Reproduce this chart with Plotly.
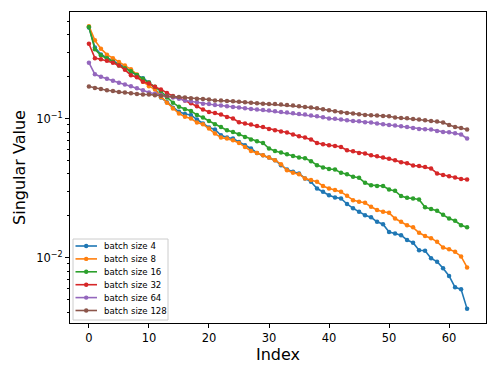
"""Singular value spectrum per batch size, log-scaled, matplotlib look-alike."""
import math

import plotly.graph_objects as go

# index of the singular value (0..63)
index = list(range(64))

bs4 = [
    0.452, 0.325, 0.289, 0.273, 0.260, 0.247, 0.234, 0.217, 0.205, 0.195, 0.182, 0.165, 0.142, 0.131, 0.1195, 0.1119, 0.1077,
    0.1061, 0.0984, 0.0921, 0.0862, 0.0834, 0.0759, 0.0731, 0.0719, 0.0679, 0.0643, 0.0609, 0.0566, 0.0545, 0.0525, 0.0502,
    0.0462, 0.0430, 0.0414, 0.0403, 0.0371, 0.0351, 0.0314, 0.0297,
    0.0281, 0.0271, 0.0266, 0.0243, 0.0226, 0.0214, 0.0202, 0.0195, 0.0181, 0.0174, 0.0153, 0.0149, 0.0145, 0.0134, 0.0128,
    0.0113, 0.0112, 0.00988, 0.00935, 0.00838, 0.00738, 0.00612, 0.00592, 0.00428,
]
bs8 = [
    0.462, 0.365, 0.318, 0.288, 0.272, 0.255, 0.241, 0.226, 0.207, 0.185, 0.171, 0.162, 0.143, 0.130, 0.1180, 0.1086, 0.1032,
    0.1000, 0.0936, 0.0910, 0.0848, 0.0780, 0.0731, 0.0719, 0.0699, 0.0668, 0.0625, 0.0585, 0.0566, 0.0545, 0.0525, 0.0502,
    0.0470, 0.0425, 0.0407, 0.0398, 0.0371, 0.0361, 0.0351, 0.0327,
    0.0314, 0.0306, 0.0297, 0.0278, 0.0259, 0.0252, 0.0248, 0.0232, 0.0220, 0.0214, 0.0210, 0.0191, 0.0181, 0.0171, 0.0165,
    0.0151, 0.0143, 0.0138, 0.0130, 0.0118, 0.0115, 0.0110, 0.0102, 0.0085,
]
bs16 = [
    0.456, 0.315, 0.285, 0.271, 0.256, 0.241, 0.230, 0.219, 0.206, 0.193, 0.182, 0.169, 0.157, 0.142, 0.130, 0.1215, 0.1166,
    0.1134, 0.1061, 0.1017, 0.0961, 0.0910, 0.0871, 0.0824, 0.0801, 0.0771, 0.0738, 0.0707, 0.0687, 0.0668, 0.0609, 0.0585,
    0.0570, 0.0554, 0.0539, 0.0525, 0.0519, 0.0494, 0.0462, 0.0445,
    0.0434, 0.0430, 0.0407, 0.0398, 0.0381, 0.0375, 0.0345, 0.0332, 0.0328, 0.0327, 0.0309, 0.0302, 0.0277, 0.0269, 0.0266,
    0.0262, 0.0230, 0.0224, 0.0217, 0.0203, 0.0191, 0.0184, 0.0171, 0.0165,
]
bs32 = [
    0.345, 0.272, 0.267, 0.260, 0.252, 0.241, 0.224, 0.205, 0.198, 0.184, 0.179, 0.169, 0.162, 0.153, 0.145, 0.141, 0.135,
    0.129, 0.1226, 0.1160, 0.1115, 0.1097, 0.1068, 0.1027, 0.1000, 0.0941, 0.0921, 0.0906, 0.0885, 0.0871, 0.0842, 0.0824,
    0.0807, 0.0793, 0.0767, 0.0746, 0.0731, 0.0707, 0.0668, 0.0654,
    0.0643, 0.0636, 0.0625, 0.0592, 0.0582, 0.0566, 0.0561, 0.0545, 0.0536, 0.0525, 0.0513, 0.0502, 0.0486, 0.0478, 0.0460,
    0.0455, 0.0449, 0.0438, 0.0403, 0.0392, 0.0385, 0.0377, 0.0368, 0.0365,
]
bs64 = [
    0.252, 0.208, 0.200, 0.193, 0.187, 0.181, 0.176, 0.171, 0.165, 0.160, 0.154, 0.151, 0.148, 0.145, 0.142, 0.139,
    0.135, 0.133, 0.131, 0.128, 0.127, 0.1252, 0.1240, 0.1226, 0.1211, 0.1199, 0.1186, 0.1172, 0.1160, 0.1153, 0.1141, 0.1128,
    0.1115, 0.1104, 0.1091, 0.1079, 0.1068, 0.1051, 0.1039, 0.1022,
    0.1002, 0.0995, 0.0984, 0.0972, 0.0961, 0.0956, 0.0941, 0.0936, 0.0921, 0.0910, 0.0900, 0.0891, 0.0881, 0.0871, 0.0856,
    0.0842, 0.0838, 0.0834, 0.0815, 0.0802, 0.0797, 0.0784, 0.0767, 0.0719,
]
bs128 = [
    0.170, 0.166, 0.163, 0.160, 0.158, 0.155, 0.154, 0.152, 0.150, 0.149, 0.149, 0.147, 0.146, 0.145, 0.144, 0.143, 0.142,
    0.140, 0.139, 0.138, 0.137, 0.135, 0.135, 0.134, 0.133, 0.132, 0.131, 0.130, 0.129, 0.128, 0.127, 0.127,
    0.126, 0.125, 0.124, 0.1226, 0.1211, 0.1199, 0.1186, 0.1166,
    0.1147, 0.1128, 0.1110, 0.1097, 0.1086, 0.1074, 0.1061, 0.1056, 0.1051, 0.1044, 0.1039, 0.1017, 0.1010, 0.1005, 0.0993,
    0.0984, 0.0972, 0.0961, 0.0952, 0.0936, 0.0900, 0.0871, 0.0856, 0.0834,
]

series = [
    ("batch size 4", bs4, "#1f77b4"),
    ("batch size 8", bs8, "#ff7f0e"),
    ("batch size 16", bs16, "#2ca02c"),
    ("batch size 32", bs32, "#d62728"),
    ("batch size 64", bs64, "#9467bd"),
    ("batch size 128", bs128, "#8c564b"),
]

FONT = "DejaVu Sans, Liberation Sans, sans-serif"
W, H = 498, 374
ML, MR, MT, MB = 70, 12, 12, 51
PW, PH = W - ML - MR, H - MT - MB  # plot area in px

fig = go.Figure()
for name, vals, color in series:
    fig.add_trace(go.Scatter(
        x=index, y=vals, name=name, mode="lines+markers",
        line=dict(color=color, width=1.6),
        marker=dict(color=color, size=4.5),
        showlegend=False,
    ))

# matplotlib-style 5% autoscale margins (log space on y)
all_vals = [v for _, vals, _ in series for v in vals]
lo, hi = math.log10(min(all_vals)), math.log10(max(all_vals))
pad = 0.05 * (hi - lo)
xpad = 0.05 * (index[-1] - index[0])

minor_y = [k * 10.0 ** e for e in (-3, -2, -1) for k in range(2, 10)]

axis_common = dict(
    showgrid=False, zeroline=False, automargin=False,
    showline=True, mirror=True, linecolor="black", linewidth=1,
    ticks="outside", ticklen=4, tickwidth=1, tickcolor="black",
    tickfont=dict(family=FONT, size=11.5, color="black"),
)

fig.update_xaxes(
    range=[index[0] - xpad, index[-1] + xpad],
    tickvals=[0, 10, 20, 30, 40, 50, 60],
    title=dict(text="Index", font=dict(family=FONT, size=16, color="black"), standoff=4),
    **axis_common,
)
fig.update_yaxes(
    type="log",
    range=[lo - pad, hi + pad],
    tickvals=[0.01, 0.1],
    ticktext=["10<sup>\u22122</sup>", "10<sup>\u22121</sup>"],
    minor=dict(tickvals=minor_y, ticks="outside", ticklen=2.2, tickcolor="black", showgrid=False),
    title=dict(text="Singular Value", font=dict(family=FONT, size=16, color="black"), standoff=6),
    **axis_common,
)

# hand-built legend box (matplotlib rows are tighter than plotly's legend allows)
def px_x(p):
    return (p - ML) / PW


def px_y(p):
    return (H - MB - p) / PH


shapes = [dict(
    type="rect", xref="paper", yref="paper", layer="above",
    x0=px_x(73), x1=px_x(168), y0=px_y(320), y1=px_y(239),
    line=dict(color="#cccccc", width=1), fillcolor="rgba(255,255,255,0.8)",
)]
annotations = []
for k, (name, _, color) in enumerate(series):
    row = 246 + 12.9 * k
    shapes.append(dict(
        type="line", xref="paper", yref="paper", layer="above",
        x0=px_x(75.5), x1=px_x(97), y0=px_y(row), y1=px_y(row),
        line=dict(color=color, width=1.6),
    ))
    shapes.append(dict(
        type="circle", xref="paper", yref="paper", layer="above",
        xsizemode="pixel", ysizemode="pixel",
        xanchor=px_x(86.2), yanchor=px_y(row),
        x0=-2.2, x1=2.2, y0=-2.2, y1=2.2,
        line=dict(color=color, width=0), fillcolor=color,
    ))
    annotations.append(dict(
        text=name, xref="paper", yref="paper", showarrow=False,
        x=px_x(101.5), y=px_y(row), xanchor="left", yanchor="middle",
        font=dict(family=FONT, size=8.6, color="black"),
    ))

fig.update_layout(
    width=W, height=H,
    margin=dict(l=ML, r=MR, t=MT, b=MB),
    plot_bgcolor="white", paper_bgcolor="white",
    font=dict(family=FONT, color="black"),
    shapes=shapes, annotations=annotations,
)

# drop the browser's default 8px body margin so the figure sits at (0, 0)
fig.write_html(
    "out.html",
    config={"displayModeBar": False},
    post_script="document.body.style.margin='0';",
)
